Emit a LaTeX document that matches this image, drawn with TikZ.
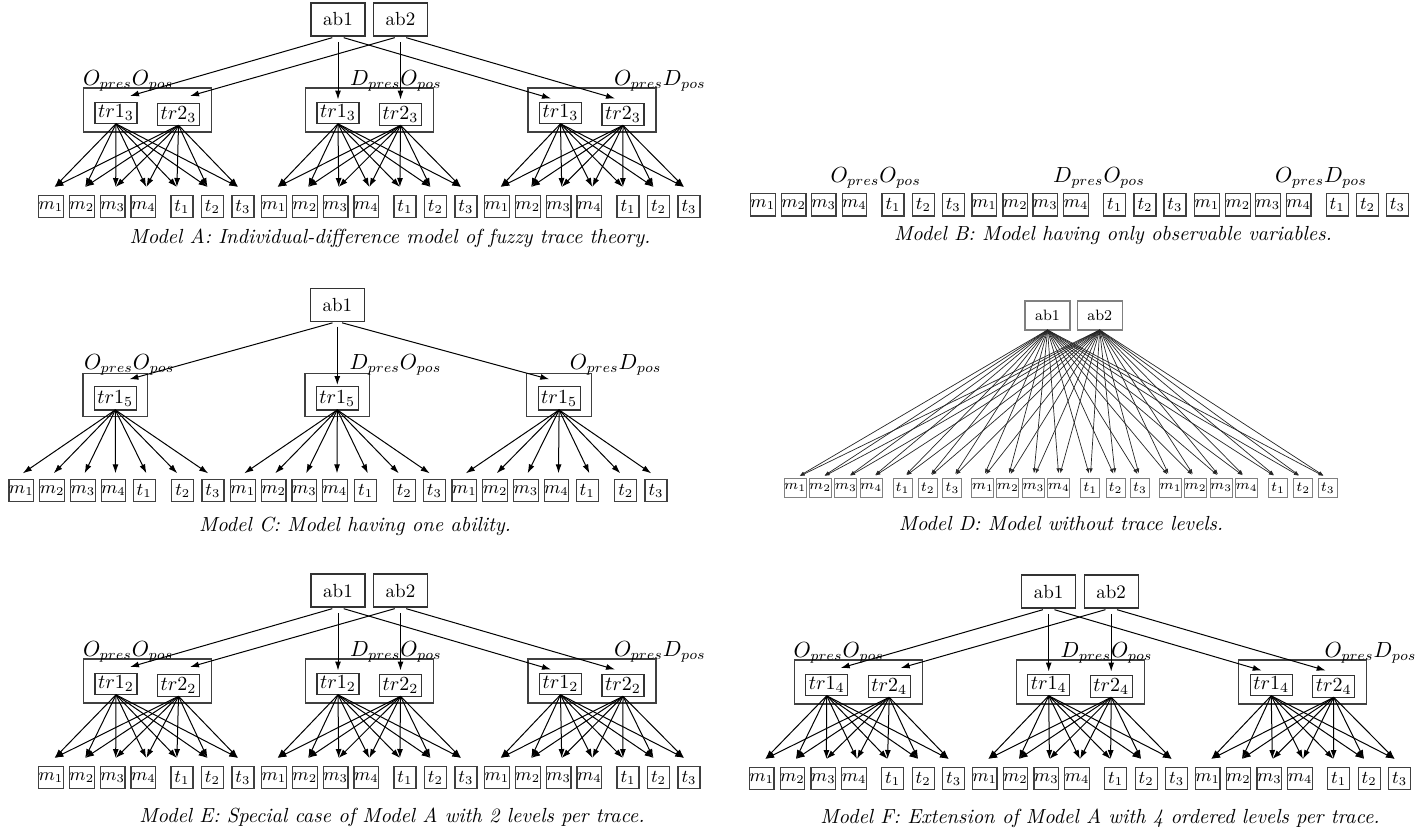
\documentclass[tikz,border=0pt]{standalone}
\usetikzlibrary{arrows.meta}
\tikzset{
  x=0.5pt, y=-0.5pt,
  every node/.style={inner sep=0pt, outer sep=0pt},
  abbox/.style={draw=black!80, line width=0.6pt, minimum width=27pt, minimum height=16.5pt, font=\fontsize{9.5}{9.5}\selectfont},
  trbox/.style={draw=black!80, line width=0.6pt, minimum width=21pt, minimum height=10.8pt, font=\fontsize{10}{10}\selectfont},
  grpbox/.style={draw=black!75, line width=0.6pt, minimum width=64pt, minimum height=22pt},
  grpboxC/.style={draw=black!75, line width=0.6pt, minimum width=32.3pt, minimum height=21.7pt},
  obsbox/.style={draw=black!75, line width=0.6pt, minimum width=11pt, minimum height=10.8pt, font=\fontsize{9}{9}\selectfont},
  abD/.style={draw=black!50, line width=0.6pt, minimum width=22.5pt, minimum height=14.5pt, font=\fontsize{7.5}{7.5}\selectfont},
  obsD/.style={draw=black!50, line width=0.5pt, minimum width=9.5pt, minimum height=9.5pt, font=\fontsize{7.5}{7.5}\selectfont},
  lbl/.style={anchor=west, font=\fontsize{10.5}{10.5}\selectfont},
  captxt/.style={font=\fontsize{10.2}{10.2}\selectfont\itshape},
  arr/.style={-{Latex[length=4.5pt,width=3pt]}, line width=0.5pt},
  arrD/.style={-{Latex[length=2.5pt,width=1.8pt]}, line width=0.35pt, draw=black!85},
}
\newcommand\drawModelA[4]{%
\begin{scope}[shift={(#1,#2)}]
  \node[abbox] (#4ab1) at (338,19.5) {ab1};
  \node[abbox] (#4ab2) at (400.5,19.5) {ab2};
  \foreach \g/\cx/\mx/\ta/\tb/\ty/\lx/\lab in {0/147.5/51/130/190/96/83/{O_{pres}O_{pos}}, 1/369.5/274/338/400.5/99.5/350/{D_{pres}O_{pos}}, 2/592/497/551/615/98.5/614/{O_{pres}D_{pos}}}{
    \node[grpbox] (#4g\g) at (\cx,110) {};
    \node[lbl] (#4l\g) at (\lx,81) {$\lab$};
    \node[trbox] (#4g\g-tr1) at (\cx-31.5,113) {$tr1_{#3}$};
    \node[trbox] (#4g\g-tr2) at (\cx+31,114.5) {$tr2_{#3}$};
    \coordinate (#4g\g-a) at (\ta,\ty);
    \coordinate (#4g\g-b) at (\tb,\ty);
    \draw[arr, shorten <=3pt] (#4ab1.south) -- (#4g\g-a);
    \draw[arr, shorten <=3pt] (#4ab2.south) -- (#4g\g-b);
    \foreach \i/\off/\nm in {0/0/m_1, 1/30.8/m_2, 2/61.6/m_3, 3/92.4/m_4, 4/131/t_1, 5/161.5/t_2, 6/192/t_3}{
      \node[obsbox] (#4g\g-o\i) at (\mx+\off,206.5) {$\nm$};
      \coordinate (#4g\g-p\i) at (\mx+3.5+30.6*\i,187);
      \draw[arr] (#4g\g-tr1.south) -- (#4g\g-p\i);
      \draw[arr] (#4g\g-tr2.south) -- (#4g\g-p\i);
    }
  }
\end{scope}}
\begin{document}
\begin{tikzpicture}
\useasboundingbox (0,0) rectangle (1424,832);
% Model A
\drawModelA{0}{0}{3}{A}
\node[captxt] (capA) at (390,238) {Model A: Individual-difference model of fuzzy trace theory.};
% Model E
\drawModelA{0}{571}{2}{E}
\node[captxt] (capE) at (392,817) {Model E: Special case of Model A with 2 levels per trace.};
% Model F
\drawModelA{710.7}{572}{4}{F}
\node[captxt] (capF) at (1100,818) {Model F: Extension of Model A with 4 ordered levels per trace.};
% Model B
\foreach \g/\lx/\lab/\mx in {0/875.7/{O_{pres}O_{pos}}/762.8, 1/1099/{D_{pres}O_{pos}}/984.4, 2/1321/{O_{pres}D_{pos}}/1206.9}{
  \node[font=\fontsize{10.5}{10.5}\selectfont] (Bl\g) at (\lx,178) {$\lab$};
  \foreach \i/\off/\nm in {0/0/m_1, 1/30.9/m_2, 2/60.9/m_3, 3/91.7/m_4, 4/130.2/t_1, 5/160.6/t_2, 6/190.5/t_3}{
    \node[obsbox, minimum height=11.3pt] (Bg\g-o\i) at (\mx+\off,204.7) {$\nm$};
  }
}
\node[captxt] (capB) at (1113,236) {Model B: Model having only observable variables.};
% Model C
\node[abbox] (Cab1) at (337.3,305) {ab1};
\foreach \g/\cx/\mx/\ta/\ty/\lx/\lab in {0/115.3/21.3/129.4/379.3/84/{O_{pres}O_{pos}}, 1/337.3/242.8/337.3/385/349.6/{D_{pres}O_{pos}}, 2/559.1/464.3/549.3/379.3/569.8/{O_{pres}D_{pos}}}{
  \node[grpboxC] (Cg\g) at (\cx,395) {};
  \node[lbl] (Cl\g) at (\lx,365) {$\lab$};
  \node[trbox, minimum height=11.6pt] (Cg\g-tr1) at (\cx,398.3) {$tr1_5$};
  \coordinate (Cg\g-a) at (\ta,\ty);
  \draw[arr, shorten <=2.5pt] (Cab1.south) -- (Cg\g-a);
  \foreach \i/\off/\nm in {0/0/m_1, 1/30.9/m_2, 2/61.6/m_3, 3/92.2/m_4, 4/122.8/t_1, 5/161.5/t_2, 6/191.7/t_3}{
    \node[obsbox, minimum height=11.2pt] (Cg\g-o\i) at (\mx+\off,490.5) {$\nm$};
    \coordinate (Cg\g-p\i) at (\mx+1.5+30.9*\i,473.3);
    \draw[arr] (Cg\g-tr1.south) -- (Cg\g-p\i);
  }
}
\node[captxt] (capC) at (355,526.7) {Model C: Model having one ability.};
% Model D
\node[abD] (Dab1) at (1047.5,315.5) {ab1};
\node[abD] (Dab2) at (1099.7,315.5) {ab2};
\foreach \g/\mx in {0/795.2, 1/982.9, 2/1170.6}{
  \foreach \i/\off/\nm in {0/0/m_1, 1/25/m_2, 2/50.6/m_3, 3/76/m_4, 4/107.4/t_1, 5/132.6/t_2, 6/157.2/t_3}{
    \node[obsD] (Dg\g-o\i) at (\mx+\off,487.8) {$\nm$};
    \draw[arrD, shorten >=2.5pt] (Dab1.south) -- (Dg\g-o\i.north);
    \draw[arrD, shorten >=2.5pt] (Dab2.south) -- (Dg\g-o\i.north);
  }
}
\node[captxt] (capD) at (1061,523.3) {Model D: Model without trace levels.};
\end{tikzpicture}
\end{document}
